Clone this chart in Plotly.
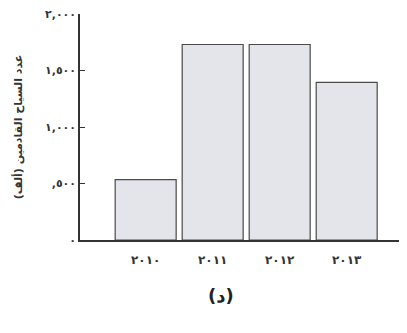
import plotly.graph_objects as go

# Tourist arrivals (thousands) by year
years = ["2010", "2011", "2012", "2013"]
year_labels = ["٢٠١٠", "٢٠١١", "٢٠١٢", "٢٠١٣"]
tourists = [535, 1730, 1730, 1395]

y_ticks = [0, 500, 1000, 1500, 2000]
y_tick_labels = ["٠", ",٥٠٠", "١,٠٠٠", "١,٥٠٠", "٢,٠٠٠"]

fig = go.Figure()
fig.add_trace(go.Bar(
    x=years, y=tourists,
    marker=dict(color="#e3e5eb", line=dict(color="#4a4a4a", width=1.2)),
))

# page body has an 8px margin, so the figure is a bit smaller than the window
fig.update_layout(
    width=399, height=325,
    margin=dict(l=72, r=0, t=4, b=93),
    plot_bgcolor="white", paper_bgcolor="white",
    bargap=0.09,
    showlegend=False,
    font=dict(family="DejaVu Sans", color="#333333"),
    annotations=[dict(
        text="<b>(د)</b>", x=0.43, y=-0.3, xref="paper", yref="paper",
        showarrow=False, font=dict(size=18, color="#222222"),
    )],
)
fig.update_xaxes(
    type="category", range=[-0.98, 3.9],
    tickvals=years, ticktext=["<b>" + t + "</b>" for t in year_labels],
    tickfont=dict(size=12, color="#333333", family="DejaVu Sans"),
    ticklabelstandoff=8,
    showline=True, linecolor="#333333", linewidth=1.5,
    ticks="", showgrid=False,
)
fig.update_yaxes(
    range=[0, 2000], tickvals=y_ticks,
    ticktext=["<b>" + t + "</b>" for t in y_tick_labels],
    tickfont=dict(size=11, color="#333333", family="DejaVu Sans"),
    ticklabeloverflow="allow",
    ticks="inside", ticklen=5, tickcolor="#333333", tickwidth=1.2,
    showline=True, linecolor="#333333", linewidth=1.5,
    showgrid=False, zeroline=False,
    title=dict(text="<b>عدد السياح القادمين (ألف)</b>", standoff=20,
               font=dict(size=11, color="#333333", family="DejaVu Sans")),
)

fig.write_html("out.html")
